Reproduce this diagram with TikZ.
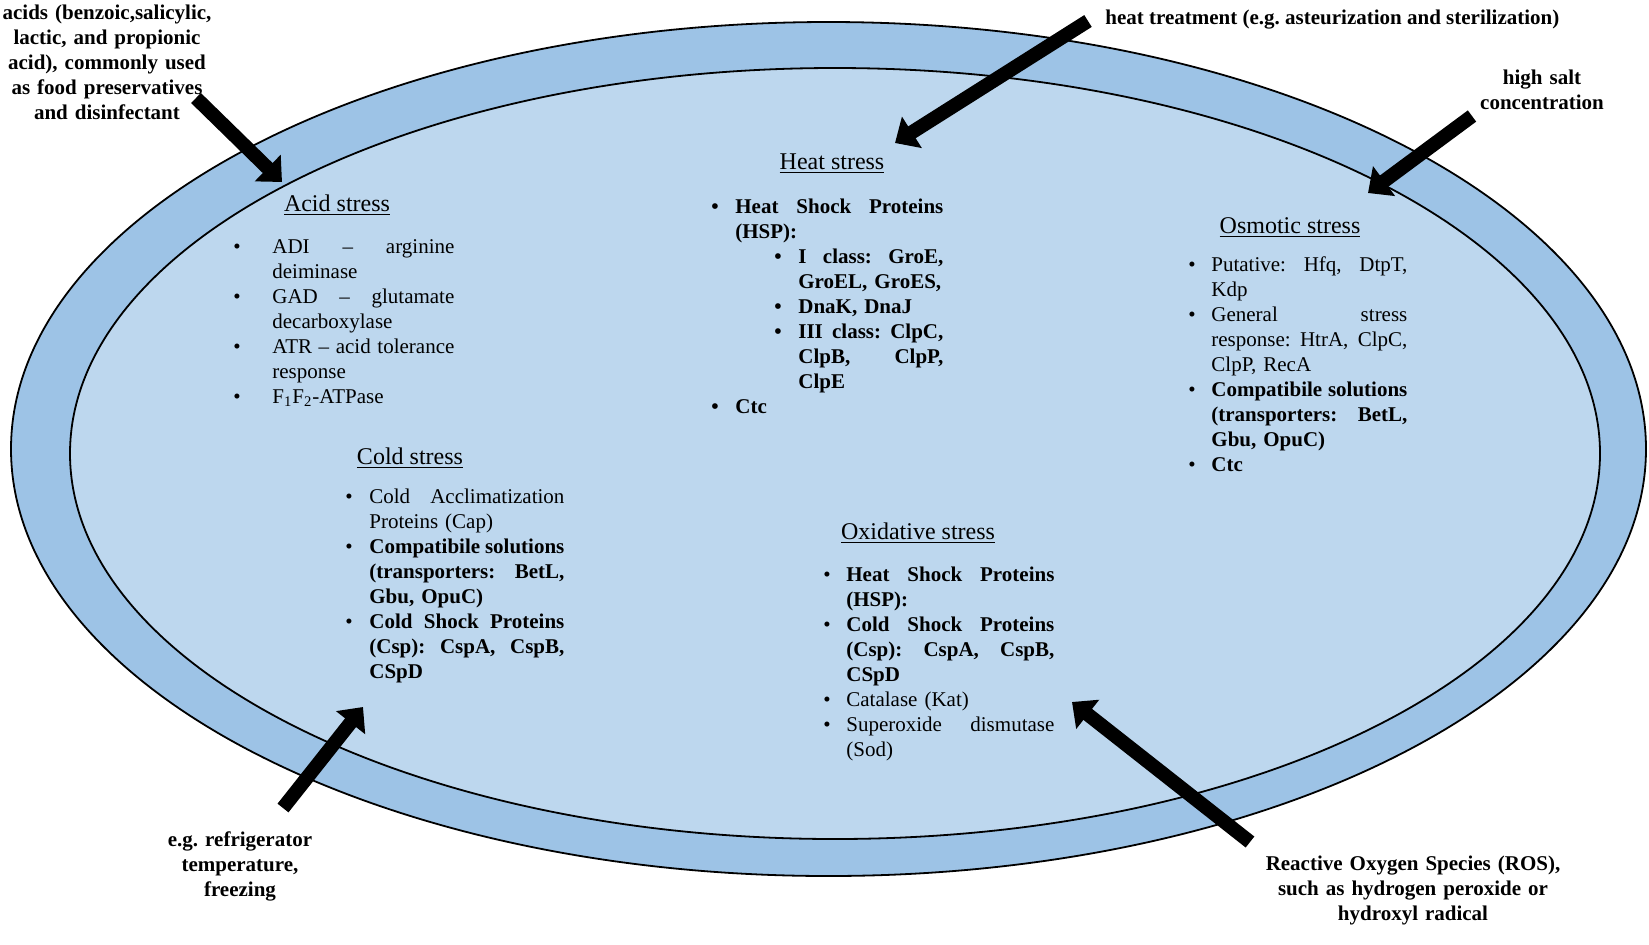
\documentclass[tikz,border=0pt]{standalone}
\usepackage{fontspec}
\setmainfont{Liberation Serif}
\usetikzlibrary{arrows.meta,shapes.geometric}
\definecolor{outerblue}{HTML}{9DC3E6}
\definecolor{innerblue}{HTML}{BDD7EE}
\frenchspacing
\newlength\bo \newlength\bi \newlength\jw
\newcommand\setlist[3]{\setlength\bo{#1}\setlength\bi{#2}\setlength\jw{#3}}
\newcommand\BJ[1]{\noindent\hspace*{\bo}\makebox[\bi][l]{\textbullet}\hbox to\jw{#1}\par}
\newcommand\BN[1]{\noindent\hspace*{\bo}\makebox[\bi][l]{\textbullet}{#1}\par}
\newcommand\CJ[1]{\noindent\hspace*{\dimexpr\bo+\bi\relax}\hbox to\jw{#1}\par}
\newcommand\CN[1]{\noindent\hspace*{\dimexpr\bo+\bi\relax}{#1}\par}
\tikzset{
  cellring/.style={ellipse, draw=black, line width=0.9pt, inner sep=0pt},
  head/.style={anchor=base, inner sep=0pt, font=\fontsize{12pt}{14pt}\selectfont},
  listbox/.style={anchor=base west, inner sep=0pt, text width=#1, font=\fontsize{10.5pt}{12.5pt}\selectfont},
  extlabel/.style={anchor=base, inner sep=0pt, text width=#1, align=center, font=\bfseries\fontsize{10.5pt}{12.5pt}\selectfont},
  bigarrow/.style={line width=7pt, -{Triangle[length=10pt,width=18pt]}}
}
\begin{document}
\begin{tikzpicture}[x=0.5pt,y=-0.5pt]
\fill[white] (0,0) rectangle (1649,944);
\useasboundingbox (0,0) rectangle (1649,944);
% cell
\node[cellring, fill=outerblue, minimum width=817.5pt, minimum height=427pt] (outer) at (828.5,449) {};
\node[cellring, fill=innerblue, minimum width=765pt, minimum height=385.5pt] (inner) at (835,453.5) {};

% headings
\node[head] (acidH) at (337,211) {\underline{Acid stress}};
\node[head] (heatH) at (832,169) {\underline{Heat stress}};
\node[head] (osmH) at (1290,233) {\underline{Osmotic stress}};
\node[head] (coldH) at (410,464) {\underline{Cold stress}};
\node[head] (oxH) at (918,539) {\underline{Oxidative stress}};

% lists
\node[listbox=115pt] (acidL) at (233,253) {\setlist{0pt}{19.5pt}{91pt}%
\BJ{ADI\hfill –\hfill arginine}
\CN{deiminase}
\BJ{GAD\hfill –\hfill glutamate}
\CN{decarboxylase}
\BJ{ATR\hfill –\hfill acid\hfill tolerance}
\CN{response}
\BN{F\textsubscript{1}F\textsubscript{2}-ATPase}};

\node[listbox=120pt, font=\bfseries\fontsize{10.5pt}{12.5pt}\selectfont] (heatL) at (711,213) {\setlist{0pt}{12pt}{104pt}%
\BJ{Heat\hfill Shock\hfill Proteins}
\CN{(HSP):}
\setlist{31.5pt}{12pt}{72.5pt}%
\BJ{I\hfill class:\hfill GroE,}
\CN{GroEL, GroES,}
\BN{DnaK, DnaJ}
\BJ{III\hfill class:\hfill ClpC,}
\CJ{ClpB,\hfill ClpP,}
\CN{ClpE}
\setlist{0pt}{12pt}{104pt}%
\BN{Ctc}};

\node[listbox=115pt] (osmL) at (1188,271) {\setlist{0pt}{11.5pt}{98pt}%
\BJ{Putative:\hfill Hfq,\hfill DtpT,}
\CN{Kdp}
\BJ{General\hfill stress}
\CJ{response:\hfill HtrA,\hfill ClpC,}
\CN{ClpP, RecA}
\BJ{\bfseries Compatibile\hfill solutions}
\CJ{\bfseries (transporters:\hfill BetL,}
\CN{\bfseries Gbu, OpuC)}
\BN{\bfseries Ctc}};

\node[listbox=115pt] (coldL) at (345,503) {\setlist{0pt}{12pt}{97.5pt}%
\BJ{Cold\hfill Acclimatization}
\CN{Proteins (Cap)}
\BJ{\bfseries Compatibile\hfill solutions}
\CJ{\bfseries (transporters:\hfill BetL,}
\CN{\bfseries Gbu, OpuC)}
\BJ{\bfseries Cold\hfill Shock\hfill Proteins}
\CJ{\bfseries (Csp):\hfill CspA,\hfill CspB,}
\CN{\bfseries CSpD}};

\node[listbox=120pt] (oxL) at (823,581) {\setlist{0pt}{11.5pt}{104pt}%
\BJ{\bfseries Heat\hfill Shock\hfill Proteins}
\CN{\bfseries (HSP):}
\BJ{\bfseries Cold\hfill Shock\hfill Proteins}
\CJ{\bfseries (Csp):\hfill CspA,\hfill CspB,}
\CN{\bfseries CSpD}
\BN{Catalase (Kat)}
\BJ{Superoxide\hfill dismutase}
\CN{(Sod)}};

% external labels
\node[extlabel=140pt] (acidX) at (107,19) {acids (benzoic,salicylic,\\lactic, and propionic\\acid), commonly used\\as food preservatives\\and disinfectant};
\node[anchor=base west, inner sep=0pt, font=\bfseries\fontsize{10.5pt}{12.5pt}\selectfont] (heatX) at (1105,24) {heat treatment (e.g. asteurization and sterilization)};
\node[extlabel=100pt] (saltX) at (1542,84) {high salt\\concentration};
\node[extlabel=100pt] (coldX) at (240,846) {e.g. refrigerator\\temperature,\\freezing};
\node[extlabel=180pt] (rosX) at (1413,870) {Reactive Oxygen Species (ROS),\\such as hydrogen peroxide or\\hydroxyl radical};

% arrows
\coordinate (acidT) at (196,98);   \coordinate (acidP) at (282,182);
\coordinate (heatT) at (1088,21);  \coordinate (heatP) at (895,143);
\coordinate (saltT) at (1472,116); \coordinate (saltP) at (1368,193);
\coordinate (coldT) at (283,808);  \coordinate (coldP) at (363,707);
\coordinate (rosT) at (1250,842);  \coordinate (rosP) at (1072,702);
\draw[bigarrow] (acidT) -- (acidP);
\draw[bigarrow] (heatT) -- (heatP);
\draw[bigarrow] (saltT) -- (saltP);
\draw[bigarrow] (coldT) -- (coldP);
\draw[bigarrow] (rosT) -- (rosP);
\end{tikzpicture}
\end{document}
